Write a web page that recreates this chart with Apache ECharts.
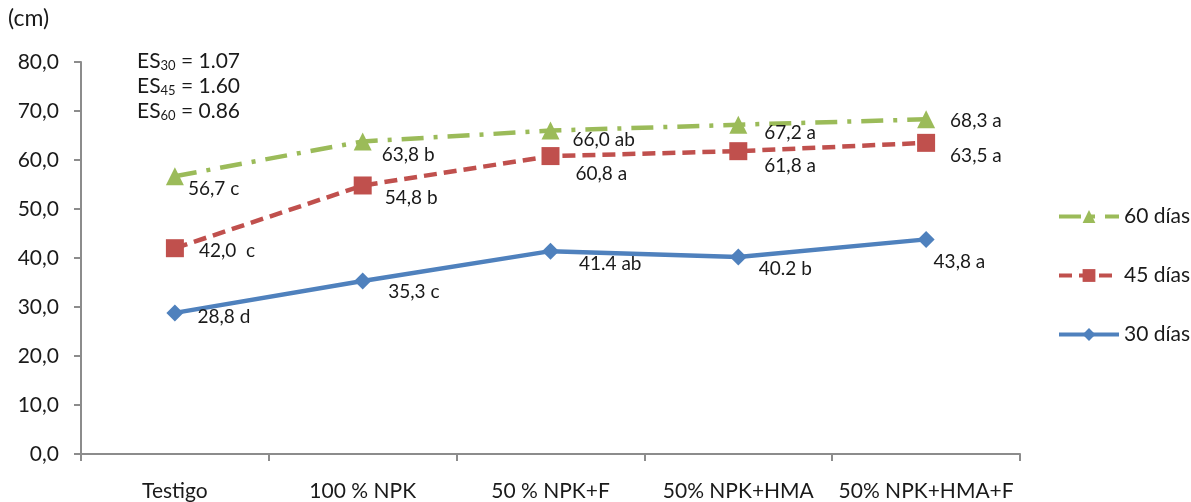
<!DOCTYPE html>
<html>
<head>
<meta charset="utf-8">
<script src="https://cdn.jsdelivr.net/npm/echarts@6/dist/echarts.min.js"></script>
<style>
  html, body { margin: 0; padding: 0; background: #fff; }
  #chart { width: 1191px; height: 502px; }
</style>
</head>
<body>
<div id="chart"></div>
<script>
  var categories = ['Testigo', '100 % NPK', '50 % NPK+F', '50% NPK+HMA', '50% NPK+HMA+F'];
  var yTicks = [0, 10, 20, 30, 40, 50, 60, 70, 80];

  var d60 = [56.7, 63.8, 66.0, 67.2, 68.3];
  var d45 = [42.0, 54.8, 60.8, 61.8, 63.5];
  var d30 = [28.8, 35.3, 41.4, 40.2, 43.8];

  var lab60 = ['56,7 c', '63,8 b', '66,0 ab', '67,2 a', '68,3 a'];
  var lab45 = ['42,0  c', '54,8 b', '60,8 a', '61,8 a', '63,5 a'];
  var lab30 = ['28,8 d', '35,3 c', '41.4 ab', '40.2 b', '43,8 a'];

  var font = 'Lato, "Open Sans", sans-serif';
  var txt = '#1a1a1a';

  // label offsets (px), measured from the right edge of the symbol
  var off60 = [[-1, 13], [5, 13], [8, 9], [12, 8], [10, 2]];
  var off45 = [[10, 3], [8, 12], [11, 18], [12, 15], [10, 13]];
  var off30 = [[9, 4], [12, 11], [15, 13], [7, 12], [-6, 22]];

  function mkData(vals, labels, offs) {
    return vals.map(function (v, i) {
      return {
        value: v,
        label: {
          show: true,
          position: 'right',
          offset: offs[i],
          formatter: labels[i]
        }
      };
    });
  }

  var chart = echarts.init(document.getElementById('chart'));
  var option = {
    animation: false,
    textStyle: { fontFamily: font },
    grid: { left: 81, right: 171, top: 62, bottom: 47, containLabel: false },
    legend: {
      orient: 'vertical',
      left: 1052,
      top: 201,
      itemWidth: 60,
      itemHeight: 16,
      itemGap: 38,
      lineStyle: { width: 4 },
      textStyle: { fontSize: 21, color: txt, fontFamily: font },
      data: ['60 días', '45 días', '30 días']
    },
    graphic: [
      { type: 'text', left: 8, top: 7, style: { text: '(cm)', fontSize: 23, fontFamily: font, fill: txt } },
      {
        type: 'text', left: 137, top: 49,
        style: {
          text: 'ES{s|30} = 1.07\nES{s|45} = 1.60\nES{s|60} = 0.86',
          fontSize: 21,
          fontFamily: font,
          fill: txt,
          lineHeight: 25,
          rich: { s: { fontSize: 13, padding: [9, 0, 0, 0], fill: txt, fontFamily: font } }
        }
      }
    ],
    xAxis: {
      type: 'category',
      data: categories,
      boundaryGap: true,
      axisLine: { lineStyle: { color: '#8c8c8c', width: 2 } },
      axisTick: { show: true, length: 7, lineStyle: { color: '#8c8c8c', width: 2 } },
      axisLabel: { color: txt, fontSize: 21, margin: 27, fontFamily: font, interval: 0 },
      splitLine: { show: false }
    },
    yAxis: {
      type: 'value',
      min: yTicks[0],
      max: yTicks[yTicks.length - 1],
      interval: 10,
      axisLine: { show: true, lineStyle: { color: '#8c8c8c', width: 2 } },
      axisTick: { show: true, length: 7, lineStyle: { color: '#8c8c8c', width: 2 } },
      axisLabel: {
        color: txt, fontSize: 21, margin: 22, fontFamily: font,
        formatter: function (v) { return v.toFixed(1).replace('.', ','); }
      },
      splitLine: { show: false }
    },
    series: [
      {
        name: '60 días',
        type: 'line',
        data: mkData(d60, lab60, off60),
        symbol: 'triangle',
        symbolSize: 18,
        itemStyle: { color: '#9bbb59' },
        lineStyle: { color: '#9bbb59', width: 4.5, type: [22, 10, 4, 10] },
        label: { color: txt, fontSize: 19, fontFamily: font },
        z: 3
      },
      {
        name: '45 días',
        type: 'line',
        data: mkData(d45, lab45, off45),
        symbol: 'rect',
        symbolSize: 18,
        itemStyle: { color: '#c0504d' },
        lineStyle: { color: '#c0504d', width: 4.5, type: [13, 7] },
        label: { color: txt, fontSize: 19, fontFamily: font },
        z: 3
      },
      {
        name: '30 días',
        type: 'line',
        data: mkData(d30, lab30, off30),
        symbol: 'diamond',
        symbolSize: 17,
        itemStyle: { color: '#4f81bd' },
        lineStyle: { color: '#4f81bd', width: 4.5 },
        label: { color: txt, fontSize: 19, fontFamily: font },
        z: 3
      }
    ]
  };
  chart.setOption(option);
</script>
</body>
</html>
